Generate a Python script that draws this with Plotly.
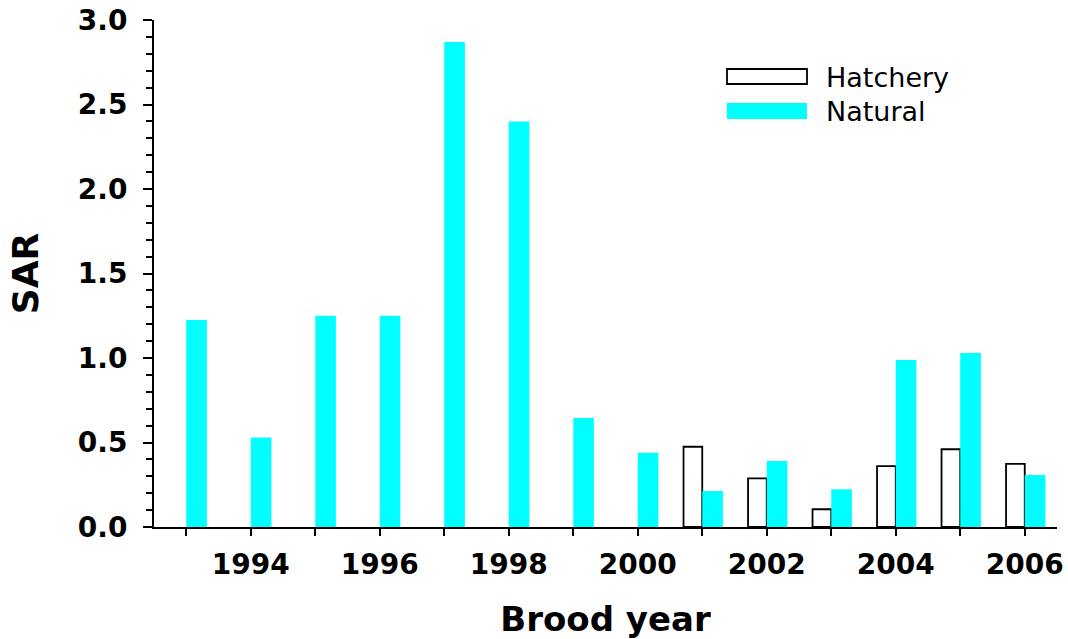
import plotly.graph_objects as go

years = [1993, 1994, 1995, 1996, 1997, 1998, 1999, 2000, 2001, 2002, 2003, 2004, 2005, 2006]
natural = [1.225, 0.53, 1.25, 1.25, 2.87, 2.40, 0.645, 0.44, 0.213, 0.39, 0.223, 0.988, 1.03, 0.308]
hatch_years = [2001, 2002, 2003, 2004, 2005, 2006]
hatchery = [0.475, 0.288, 0.105, 0.36, 0.46, 0.373]

series_names = ["Hatchery", "Natural"]
cyan = "#00FFFF"

fig = go.Figure()
fig.add_trace(go.Bar(
    x=hatch_years, y=hatchery, name=series_names[0],
    width=0.29, offset=-0.29,
    marker=dict(color="white", line=dict(color="black", width=1.8)),
))
fig.add_trace(go.Bar(
    x=years, y=natural, name=series_names[1],
    width=0.32, offset=0.0,
    marker=dict(color=cyan, line=dict(width=0)),
))

W, H = 1068, 639
L, R, T, B = 154, 11, 20, 112
pw, ph = W - L - R, H - T - B

def px(x):
    return (x - L) / pw

def py(y):
    return (H - B - y) / ph

# custom legend (wide swatches as in the reference)
fig.add_shape(type="rect", xref="paper", yref="paper",
              x0=px(727), x1=px(807), y0=py(84), y1=py(69),
              line=dict(color="black", width=1.8), fillcolor="white")
fig.add_shape(type="rect", xref="paper", yref="paper",
              x0=px(727), x1=px(807), y0=py(119), y1=py(103),
              line=dict(width=0), fillcolor=cyan)
fig.add_annotation(xref="paper", yref="paper", x=px(824), y=py(77),
                   text=series_names[0], showarrow=False, xanchor="left", yanchor="middle",
                   font=dict(family="DejaVu Sans", size=27, color="black"))
fig.add_annotation(xref="paper", yref="paper", x=px(824), y=py(111),
                   text=series_names[1], showarrow=False, xanchor="left", yanchor="middle",
                   font=dict(family="DejaVu Sans", size=27, color="black"))

fig.update_layout(
    width=W, height=H,
    margin=dict(l=L, r=R, t=T, b=B, pad=0, autoexpand=False),
    paper_bgcolor="white", plot_bgcolor="white",
    barmode="overlay",
    showlegend=False,
    font=dict(family="DejaVu Sans", color="black"),
)
fig.update_xaxes(
    range=[1992.5, 2006.5], automargin=False,
    showgrid=False, zeroline=False,
    showline=True, linecolor="black", linewidth=2,
    ticks="outside", ticklen=7, tickwidth=1.5, tickcolor="black",
    tick0=1994, dtick=2,
    minor=dict(ticks="outside", ticklen=7, tickwidth=1.5, tickcolor="black", tick0=1993, dtick=1),
    tickfont=dict(family="DejaVu Sans", size=28, color="black", weight="bold"),
    ticklabelstandoff=4, ticklabeloverflow="allow",
    title=dict(text="<b>Brood year</b>", font=dict(family="DejaVu Sans", size=34, color="black"), standoff=32),
)
fig.update_yaxes(
    range=[0, 3.0], automargin=False,
    showgrid=False, zeroline=False,
    showline=True, linecolor="black", linewidth=2,
    ticks="outside", ticklen=9, tickwidth=1.5, tickcolor="black",
    tick0=0, dtick=0.5, tickformat=".1f",
    minor=dict(ticks="outside", ticklen=6, tickwidth=1.5, tickcolor="black", dtick=0.1),
    tickfont=dict(family="DejaVu Sans", size=28, color="black", weight="bold"),
    ticklabelstandoff=10, ticklabeloverflow="allow",
    title=dict(text="<b>SAR</b>", font=dict(family="DejaVu Sans", size=36, color="black"), standoff=28),
)

# remove the browser's default 8px body margin so the figure fills the window
fig.write_html("out.html", config={"displayModeBar": False},
               post_script="document.body.style.margin='0';")
